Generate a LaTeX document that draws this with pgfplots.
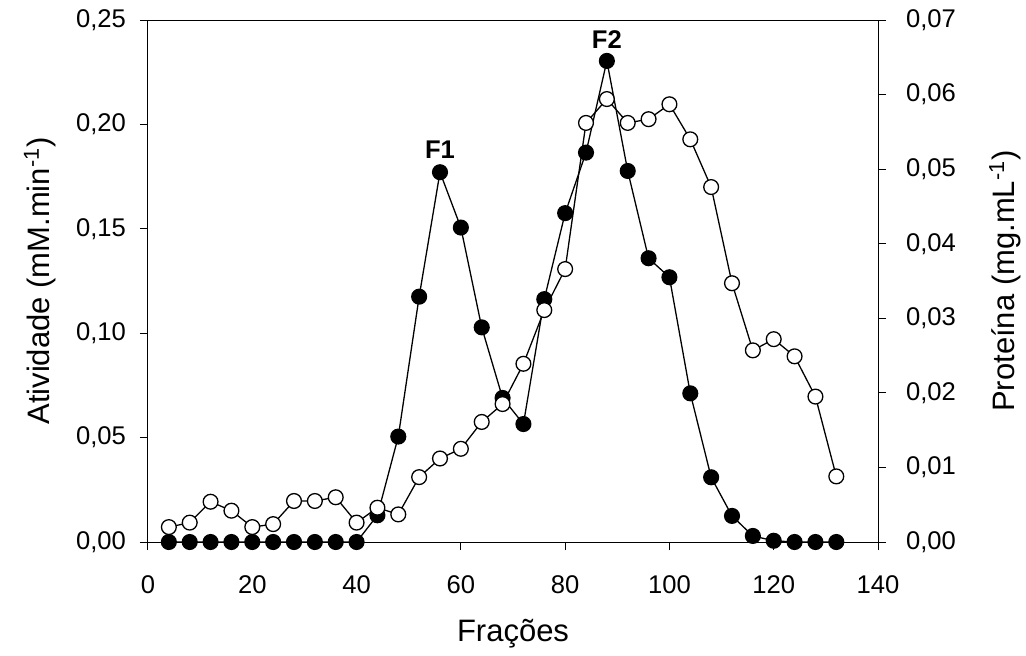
\documentclass[border=0pt]{standalone}
\usepackage{fontspec}
\setmainfont{Liberation Sans}
\usepackage{pgfplots}
\pgfplotsset{compat=1.18}
\pgfplotstableread{
x y
4 0
8 0
12 0
16 0
20 0
24 0
28 0
32 0
36 0
40 0
44 0.0128
48 0.0505
52 0.1175
56 0.1771
60 0.1506
64 0.1028
68 0.0690
72 0.0565
76 0.1163
80 0.1575
84 0.1865
88 0.2304
92 0.1777
96 0.1359
100 0.1268
104 0.0712
108 0.0310
112 0.0125
116 0.0029
120 0.0006
124 0
128 0
132 0
}\atividade
\pgfplotstableread{
x y
4 0.0020
8 0.0026
12 0.0054
16 0.0042
20 0.0020
24 0.0024
28 0.0055
32 0.0055
36 0.0060
40 0.0026
44 0.0046
48 0.0037
52 0.0087
56 0.0112
60 0.0125
64 0.0161
68 0.0185
72 0.0239
76 0.0311
80 0.0366
84 0.0562
88 0.0594
92 0.0562
96 0.0567
100 0.0587
104 0.0540
108 0.0476
112 0.0347
116 0.0257
120 0.0272
124 0.0249
128 0.0195
132 0.0088
}\proteina
\begin{document}
\begin{tikzpicture}
\useasboundingbox (-74pt,-56.5pt) rectangle (439pt,271pt);
\pgfplotsset{
  every axis/.append style={
    scale only axis, width=365pt, height=261pt,
    xmin=0, xmax=140, clip=false,
    tick align=outside, major tick length=4pt,
    axis line style={line width=0.5pt}, every tick/.style={line width=0.5pt, black},
    tick label style={font=\fontsize{12.8}{15}\selectfont},
    label style={font=\fontsize{15.5}{18}\selectfont},
    /pgf/number format/assume math mode=true,
    scaled y ticks=false,
  }
}
\begin{axis}[
  ymin=0, ymax=0.25,
  xtick={0,20,...,140}, xtick pos=bottom,
  ytick={0,0.05,0.10,0.15,0.20,0.25}, ytick pos=left,
  xticklabel style={yshift=-9.5pt},
  yticklabel style={xshift=-3.5pt, /pgf/number format/fixed, /pgf/number format/fixed zerofill, /pgf/number format/precision=2, /pgf/number format/use comma},
  xlabel={Frações},
  ylabel={Atividade (mM.min\textsuperscript{-1})},
  xlabel style={at={(axis description cs:0.5,-0.176)}, anchor=center},
  ylabel style={at={(axis description cs:-0.148,0.5)}, anchor=center},
]
\addplot[black, line width=0.65pt, mark=*, mark size=3.7pt, mark options={fill=black, solid}] table[x=x,y=y] {\atividade};
\node[font=\fontsize{12.8}{15}\selectfont\bfseries] at (axis cs:56,0.188) {F1};
\node[font=\fontsize{12.8}{15}\selectfont\bfseries] at (axis cs:88,0.2405) {F2};
\end{axis}
\begin{axis}[
  ymin=0, ymax=0.07,
  axis x line=none, axis y line*=right,
  ytick={0,0.01,0.02,0.03,0.04,0.05,0.06,0.07}, ytick pos=right,
  yticklabel style={xshift=6.5pt, /pgf/number format/fixed, /pgf/number format/fixed zerofill, /pgf/number format/precision=2, /pgf/number format/use comma},
  ylabel={Proteína (mg.mL\textsuperscript{-1})},
  ylabel style={at={(axis description cs:1.174,0.5)}, anchor=center, rotate=0},
]
\addplot[black, line width=0.65pt, mark=*, mark size=3.7pt, mark options={fill=white, solid}] table[x=x,y=y] {\proteina};
\end{axis}
\end{tikzpicture}
\end{document}
